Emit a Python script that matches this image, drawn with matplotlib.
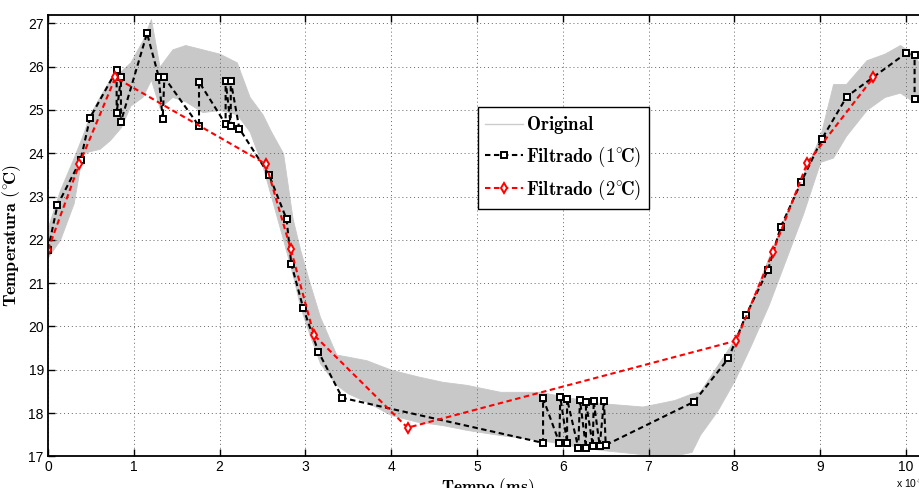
import matplotlib
matplotlib.use("Agg")
import matplotlib.pyplot as plt
import numpy as np

plt.rcParams['mathtext.fontset'] = 'cm'
plt.rcParams['font.family'] = ['Liberation Sans', 'DejaVu Sans']

# ---- data (time axis as shown, temperature in °C) ----
band_x = [0, 0.14, 0.3, 0.4, 0.49, 0.6, 0.72, 0.85, 0.96, 1.1, 1.2, 1.3, 1.45, 1.6, 1.8,
          2.0, 2.2, 2.35, 2.5, 2.6, 2.74, 2.85, 2.94, 3.05, 3.17, 3.36, 3.5, 3.71, 4.0,
          4.3, 4.6, 4.88, 5.27, 5.73, 6.1, 6.43, 6.93, 7.3, 7.5, 7.6, 7.8, 8.0, 8.2, 8.4,
          8.6, 8.8, 9.0, 9.15, 9.3, 9.54, 9.75, 9.93, 10.08, 10.15]
band_upper = [22.3, 23.15, 23.9, 24.4, 24.9, 25.3, 25.7, 25.9, 26.1, 26.6, 27.1, 26.0, 26.4,
              26.5, 26.4, 26.3, 26.1, 25.3, 24.9, 24.5, 24.0, 22.5, 21.76, 21.0, 20.22,
              19.35, 19.3, 19.22, 19.0, 18.85, 18.72, 18.65, 18.49, 18.49, 18.35, 18.23,
              18.15, 18.3, 18.45, 18.5, 19.1, 19.7, 20.6, 21.6, 22.6, 23.5, 24.4, 25.6,
              25.6, 26.15, 26.3, 26.5, 26.3, 26.1]
band_lower = [21.6, 22.0, 22.85, 24.0, 24.05, 24.1, 24.3, 24.6, 25.1, 25.3, 25.7, 25.05, 25.3,
              25.2, 24.95, 25.0, 24.9, 24.5, 23.7, 23.0, 22.0, 21.2, 20.45, 19.8, 19.15,
              18.65, 18.45, 18.26, 17.95, 17.8, 17.72, 17.61, 17.49, 17.38, 17.25, 17.15,
              17.05, 17.02, 17.1, 17.5, 18.05, 18.75, 19.6, 20.5, 21.55, 22.6, 23.8, 23.9,
              24.4, 25.0, 25.3, 25.4, 25.2, 25.3]

f1_x = [0, 0.11, 0.38, 0.49, 0.80, 0.80, 0.85, 0.85, 1.154, 1.29, 1.337, 1.356, 1.76, 1.76,
        2.07, 2.07, 2.13, 2.13, 2.23, 2.576, 2.78, 2.836, 2.975, 3.15, 3.43, 5.77, 5.77,
        5.96, 5.97, 6.05, 6.05, 6.18, 6.20, 6.27, 6.27, 6.35, 6.36, 6.43, 6.48, 6.50,
        7.53, 7.93, 8.135, 8.39, 8.54, 8.78, 9.02, 9.31, 10.0, 10.10, 10.10]
f1_y = [21.77, 22.80, 23.84, 24.82, 25.92, 24.92, 25.75, 24.73, 26.77, 25.77, 24.79, 25.75,
        24.63, 25.65, 24.67, 25.67, 24.64, 25.67, 24.57, 23.50, 22.48, 21.44, 20.42, 19.42,
        18.35, 17.31, 18.34, 17.31, 18.38, 17.31, 18.32, 17.20, 18.30, 17.20, 18.25, 17.24,
        18.28, 17.24, 18.28, 17.26, 18.26, 19.26, 20.26, 21.30, 22.30, 23.34, 24.33, 25.31,
        26.31, 26.27, 25.25]

f2_x = [0, 0.365, 0.785, 2.54, 2.83, 3.10, 4.19, 8.02, 8.45, 8.85, 9.62]
f2_y = [21.77, 23.75, 25.75, 23.75, 21.78, 19.80, 17.66, 19.67, 21.73, 23.78, 25.75]

label_tex = [r'$\mathbf{Original}$', r'$\mathbf{Filtrado\ (1^{\circ}\!C)}$',
             r'$\mathbf{Filtrado\ (2^{\circ}\!C)}$']

xticks = list(range(0, 11))
yticks = list(range(17, 28))

# ---- figure ----
fig = plt.figure(figsize=(9.2, 4.88), dpi=100)
ax = fig.add_axes([48 / 920, (488 - 456.3) / 488, 878.6 / 920, 441.6 / 488])

gray = '#c8c8c8'
ax.fill_between(band_x, band_lower, band_upper, color=gray, lw=0.6, edgecolor=gray)
orig_handle, = ax.plot([], [], color='#cccccc', lw=1.0)

dash = (0, (2.6, 1.7))
l1, = ax.plot(f1_x, f1_y, color='black', lw=1.5, linestyle=dash, marker='s',
              ms=4.3, mfc='white', mec='black', mew=1.4)
l2, = ax.plot(f2_x, f2_y, color='red', lw=1.5, linestyle=dash, marker='d',
              ms=5.3, mfc='white', mec='red', mew=1.4)

ax.set_xlim(0, 10.24)
ax.set_ylim(17, 27.2)
ax.set_xticks(xticks)
ax.set_yticks(yticks)
ax.set_xticklabels([str(v) for v in xticks], fontsize=10)
ax.set_yticklabels([str(v) for v in yticks], fontsize=10)
ax.tick_params(direction='in', top=True, right=True, length=5, width=1.0, pad=3)
ax.grid(True, linestyle=(0, (1, 3)), color='#666666', lw=0.7)
for s in ax.spines.values():
    s.set_linewidth(1.3)

ax.set_xlabel(r'$\mathbf{Tempo\ (ms)}$', fontsize=12.5, labelpad=1)
ax.set_ylabel(r'$\mathbf{Temperatura\ (^{\circ}\!C)}$', fontsize=13, labelpad=4)

leg = ax.legend([orig_handle, l1, l2], label_tex, loc='upper left',
                bbox_to_anchor=(0.489, 0.791), fontsize=13.5, fancybox=False,
                framealpha=1, edgecolor='black', handlelength=2.0,
                labelspacing=0.45, borderpad=0.4, handletextpad=0.2, borderaxespad=0)
leg.get_frame().set_linewidth(1.0)

fig.text(896 / 920, 1 - 483 / 488, r'x 10$^{4}$', fontsize=7.5, va='center', ha='left')

fig.savefig('out.png', dpi=100)
